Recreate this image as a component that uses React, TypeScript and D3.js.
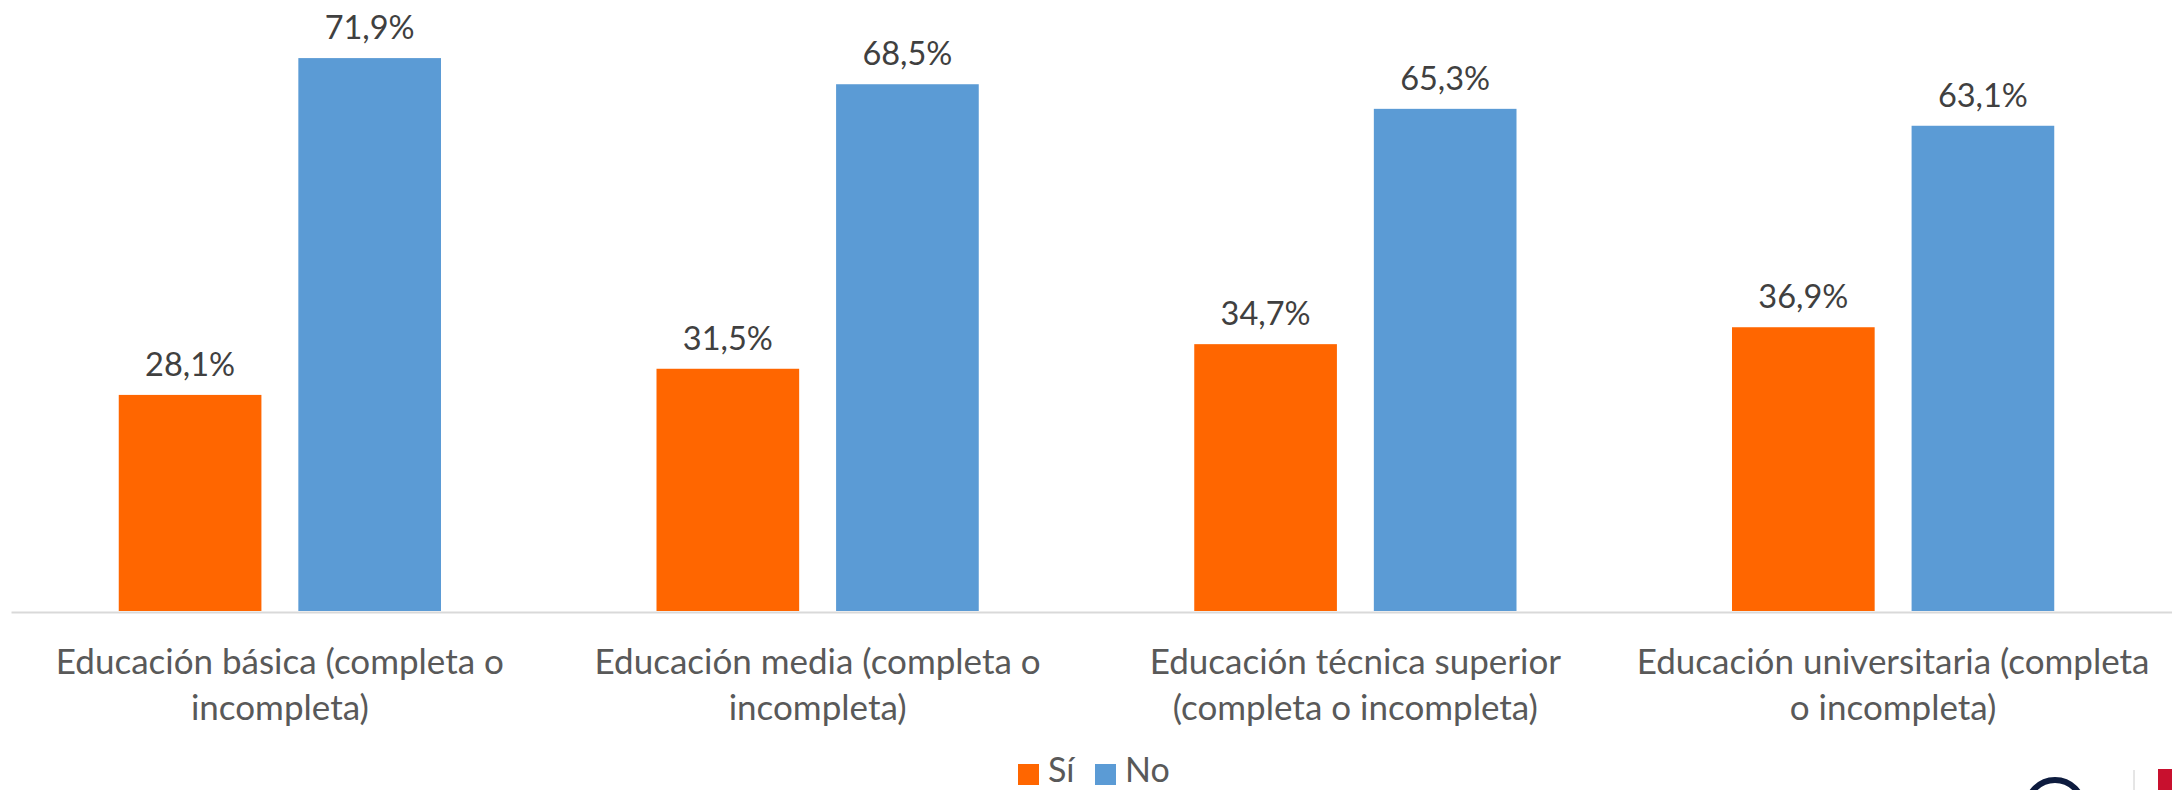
import * as d3 from "d3";
import { useEffect, useRef } from "react";

const categories = [
  "Educación básica (completa o incompleta)",
  "Educación media (completa o incompleta)",
  "Educación técnica superior (completa o incompleta)",
  "Educación universitaria (completa o incompleta)",
];
const tickLines = [
  ["Educación básica (completa o", "incompleta)"],
  ["Educación media (completa o", "incompleta)"],
  ["Educación técnica superior", "(completa o incompleta)"],
  ["Educación universitaria (completa", "o incompleta)"],
];
const series = ["Sí", "No"];
const siValues = [28.1, 31.5, 34.7, 36.9];
const noValues = [71.9, 68.5, 65.3, 63.1];

const colors = ["#ff6600", "#5b9bd5"];
const FONT = "Lato, 'Open Sans', sans-serif";

export default function App() {
  const svgRef = useRef<SVGSVGElement | null>(null);

  useEffect(() => {
    if (!svgRef.current) return;
    document.body.style.margin = "0";
    const width = 2172;
    const height = 790;
    const baseline = 611;

    const svg = d3.select(svgRef.current);
    svg.selectAll("*").remove();
    svg.attr("width", width).attr("height", height);

    const rows = categories.map((c, i) => ({ cat: c, vals: [siValues[i], noValues[i]] }));

    const x0 = d3.scaleBand<string>().domain(categories).range([11, 2162]).padding(0);
    const x1 = d3
      .scaleBand<string>()
      .domain(series)
      .range([0, x0.bandwidth()])
      .paddingInner(0.2056)
      .paddingOuter(0.6);
    const y = d3.scaleLinear().domain([0, 80]).range([baseline, baseline - 80 * 7.69]);

    // axis baseline
    const xAxis = d3.axisBottom(d3.scaleLinear().domain([0, 1]).range([11, width])).tickSize(0).tickValues([]);
    const axisG = svg
      .append("g")
      .attr("transform", `translate(0,${baseline + 1})`)
      .call(xAxis as any);
    axisG.select("path.domain").attr("stroke", "#d9d9d9").attr("stroke-width", 2);

    const groups = svg
      .append("g")
      .selectAll("g")
      .data(rows)
      .join("g")
      .attr("transform", (d) => `translate(${x0(d.cat)},0)`);

    groups
      .selectAll("rect")
      .data((d) => d.vals.map((v, i) => ({ s: series[i], v, i })))
      .join("rect")
      .attr("x", (d) => x1(d.s)!)
      .attr("y", (d) => y(d.v))
      .attr("width", x1.bandwidth())
      .attr("height", (d) => y(0) - y(d.v))
      .attr("fill", (d) => colors[d.i]);

    groups
      .selectAll("text.val")
      .data((d) => d.vals.map((v, i) => ({ s: series[i], v })))
      .join("text")
      .attr("class", "val")
      .attr("x", (d) => x1(d.s)! + x1.bandwidth() / 2)
      .attr("y", (d) => y(d.v) - 19)
      .attr("text-anchor", "middle")
      .attr("font-family", FONT)
      .attr("font-size", 32.5)
      .attr("fill", "#404040")
      .text((d) => d3.format(".1f")(d.v).replace(".", ",") + "%");

    // category labels
    categories.forEach((c, i) => {
      const cx = x0(c)! + x0.bandwidth() / 2;
      const t = svg
        .append("text")
        .attr("text-anchor", "middle")
        .attr("font-family", FONT)
        .attr("font-size", 35)
        .attr("fill", "#595959");
      tickLines[i].forEach((line, j) => {
        t.append("tspan")
          .attr("x", cx)
          .attr("y", 674 + j * 46)
          .text(line);
      });
    });

    // legend
    const legend = svg.append("g").attr("font-family", FONT).attr("font-size", 34).attr("fill", "#595959");
    const legendX = [1018, 1095];
    series.forEach((s, i) => {
      legend
        .append("rect")
        .attr("x", legendX[i])
        .attr("y", 764)
        .attr("width", 21)
        .attr("height", 21)
        .attr("fill", colors[i]);
      legend
        .append("text")
        .attr("x", legendX[i] + 30)
        .attr("y", 782)
        .text(s);
    });

    // cropped logo at the bottom right
    svg
      .append("circle")
      .attr("cx", 2055)
      .attr("cy", 808)
      .attr("r", 28)
      .attr("fill", "none")
      .attr("stroke", "#0d1b3e")
      .attr("stroke-width", 6);
    svg.append("line").attr("x1", 2134).attr("x2", 2134).attr("y1", 770).attr("y2", 790).attr("stroke", "#cccccc").attr("stroke-width", 1);
    svg.append("rect").attr("x", 2158).attr("y", 769).attr("width", 14).attr("height", 21).attr("fill", "#c8102e");
  }, []);

  return <svg ref={svgRef} style={{ display: "block", background: "#ffffff" }} />;
}
